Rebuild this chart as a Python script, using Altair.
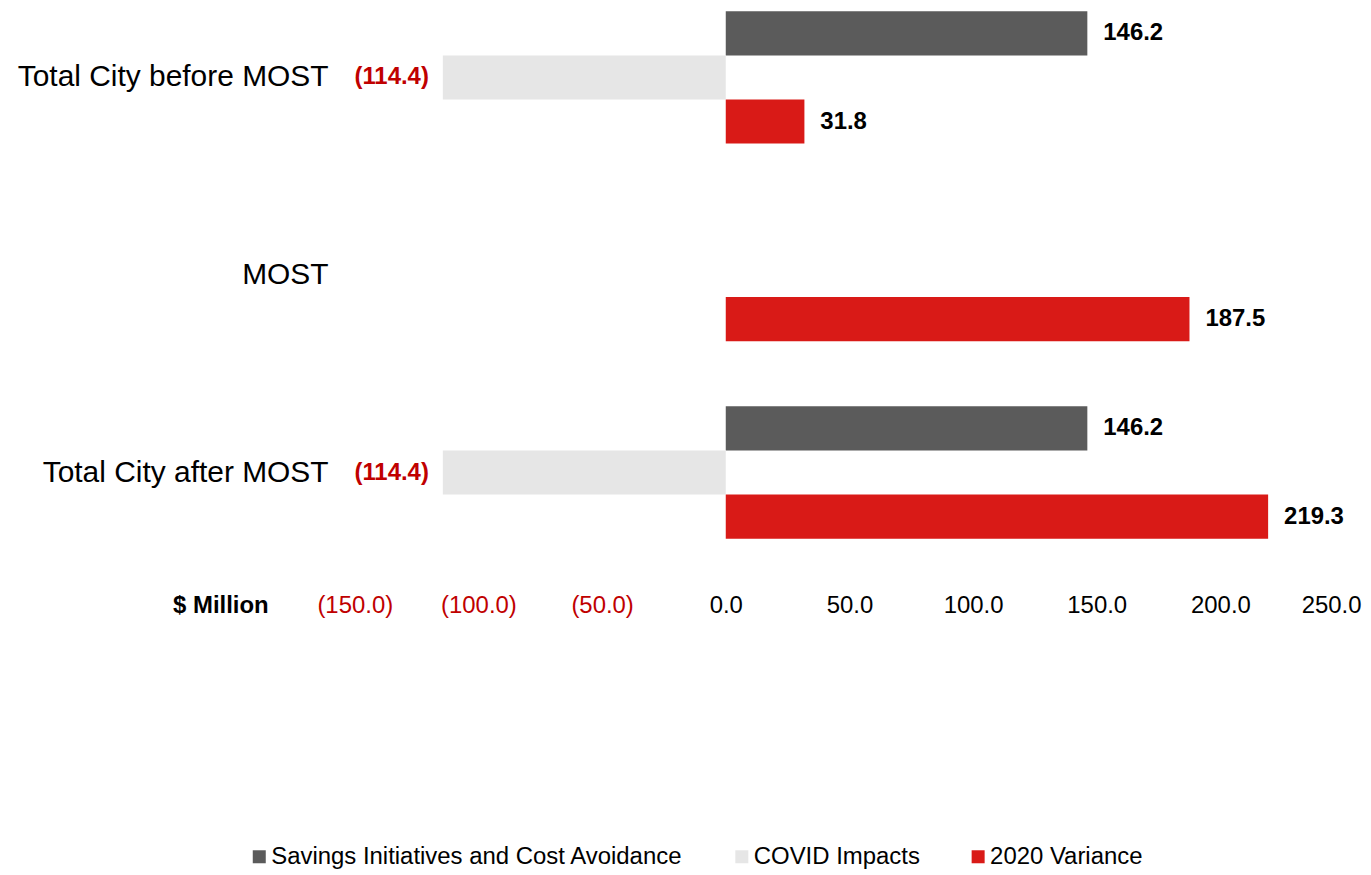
import altair as alt
import pandas as pd

categories = ["Total City before MOST", "MOST", "Total City after MOST"]
series = ["Savings Initiatives and Cost Avoidance", "COVID Impacts", "2020 Variance"]
savings = [146.2, None, 146.2]
covid = [-114.4, None, -114.4]
variance = [31.8, 187.5, 219.3]
colors = ["#5b5b5b", "#e6e6e6", "#d91a17"]
tick_values = [-150, -100, -50, 0, 50, 100, 150, 200, 250]

rows = []
for i, c in enumerate(categories):
    for s, vals in zip(series, [savings, covid, variance]):
        v = vals[i]
        if v is not None:
            rows.append({"category": c, "series": s, "value": v})
df = pd.DataFrame(rows)

FONT = "Liberation Sans"
RED_TXT = "#c00000"
fmt_expr = "datum.value < 0 ? '(' + format(-datum.value, '.1f') + ')' : format(datum.value, '.1f')"

y_enc = alt.Y(
    "category:N",
    sort=categories,
    scale=alt.Scale(domain=categories, paddingInner=0.33, paddingOuter=0),
    axis=alt.Axis(title=None, domain=False, ticks=False, labelFontSize=30,
                  labelPadding=2, labelColor="#000000", labelFont=FONT, labelLimit=600),
)
yoff_enc = alt.YOffset("series:N", sort=series,
                       scale=alt.Scale(domain=series, paddingInner=0, paddingOuter=0))
x_enc = alt.X(
    "value:Q",
    scale=alt.Scale(domain=[-160, 250], nice=False, zero=False),
    axis=alt.Axis(
        values=tick_values, grid=False, domain=False, ticks=False,
        labelExpr=fmt_expr, labelFontSize=24, labelFont=FONT,
        labelColor={"condition": {"test": "datum.value < 0", "value": RED_TXT}, "value": "#000000"},
        labelPadding=5, offset=50, labelFlush=True, labelFlushOffset=17,
        title="$ Million", titleFont=FONT, titleFontSize=24, titleFontWeight="bold",
        titleX=-110, titleY=5, titleAlign="center", titleBaseline="top", titleColor="#000000",
    ),
)

base = alt.Chart(df)

bars = base.mark_bar(strokeWidth=0).encode(
    x=x_enc,
    y=y_enc,
    yOffset=yoff_enc,
    color=alt.Color(
        "series:N", sort=series,
        scale=alt.Scale(domain=series, range=colors),
        legend=alt.Legend(
            orient="none", direction="horizontal", legendX=-83, legendY=836,
            title=None, labelFontSize=24, labelFont=FONT, labelColor="#000000",
            symbolType="square", symbolSize=170, symbolStrokeWidth=0,
            columnPadding=46, labelLimit=700, labelOffset=0,
        ),
    ),
)

pos_labels = base.transform_filter("datum.value >= 0").transform_calculate(
    label=fmt_expr
).mark_text(align="left", baseline="middle", dx=16, fontSize=24, font=FONT,
            fontWeight="bold", color="#000000").encode(
    x=alt.X("value:Q"), y=alt.Y("category:N", sort=categories),
    yOffset=alt.YOffset("series:N", sort=series), text="label:N",
)

neg_labels = base.transform_filter("datum.value < 0").transform_calculate(
    label=fmt_expr
).mark_text(align="right", baseline="middle", dx=-14, fontSize=24, font=FONT,
            fontWeight="bold", color=RED_TXT).encode(
    x=alt.X("value:Q"), y=alt.Y("category:N", sort=categories),
    yOffset=alt.YOffset("series:N", sort=series), text="label:N",
)

chart = alt.layer(bars, pos_labels, neg_labels).properties(
    width=1017, height=529, background="#ffffff",
    padding={"left": 9, "top": 2, "right": 2, "bottom": 0},
).configure_view(stroke=None)

chart.save("out.html", embed_options={"renderer": "svg", "actions": False})
